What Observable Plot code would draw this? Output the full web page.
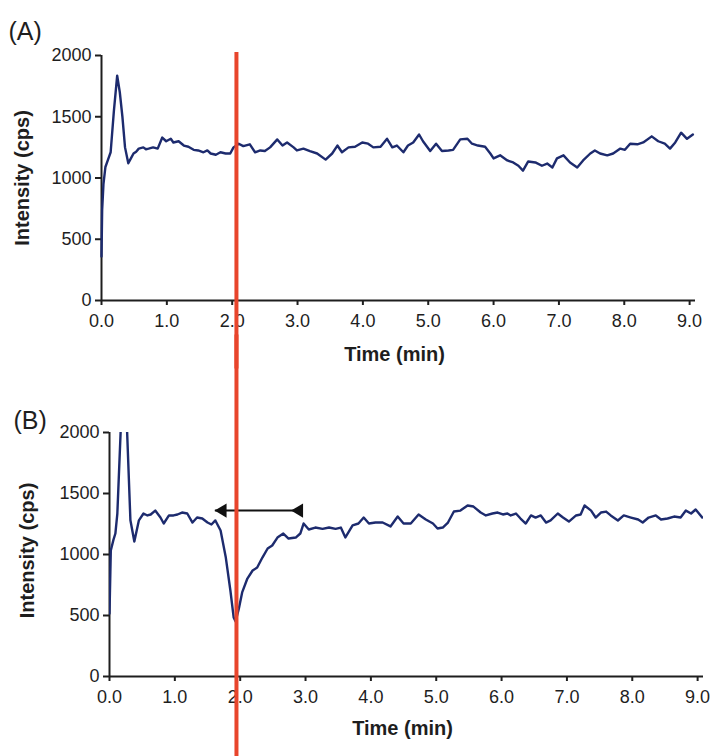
<!DOCTYPE html>
<html>
<head>
<meta charset="utf-8">
<script src="https://cdn.jsdelivr.net/npm/d3@7"></script>
<script src="https://cdn.jsdelivr.net/npm/@observablehq/plot@0.6"></script>
<style>
  html, body { margin: 0; padding: 0; background: #fff; }
  #wrap { position: relative; width: 715px; height: 756px; overflow: hidden; background: #fff; }
  #wrap svg { position: absolute; left: 0; }
</style>
</head>
<body>
<div id="wrap"></div>
<script>
// ---------- data ----------
const timeA = [0.00,0.01,0.03,0.06,0.10,0.14,0.19,0.24,0.28,0.32,0.36,0.41,0.45,0.49,0.53,0.57,0.64,0.68,0.72,0.79,0.86,0.93,0.99,1.06,1.10,1.18,1.26,1.33,1.41,1.48,1.56,1.62,1.67,1.75,1.82,1.90,1.97,2.02,2.10,2.17,2.27,2.35,2.43,2.50,2.58,2.69,2.77,2.84,2.94,2.99,3.09,3.19,3.30,3.43,3.53,3.61,3.68,3.78,3.88,3.99,4.08,4.16,4.27,4.37,4.45,4.52,4.62,4.69,4.77,4.86,4.92,5.03,5.12,5.21,5.31,5.38,5.49,5.60,5.67,5.76,5.87,5.95,6.00,6.10,6.21,6.30,6.38,6.45,6.53,6.64,6.74,6.82,6.90,6.97,7.07,7.17,7.28,7.37,7.48,7.55,7.63,7.74,7.83,7.94,8.01,8.09,8.20,8.29,8.42,8.52,8.62,8.70,8.78,8.87,8.96,9.05];
const intensityA = [360,740,950,1090,1150,1210,1550,1835,1700,1500,1250,1120,1160,1200,1215,1240,1250,1235,1240,1250,1240,1330,1300,1320,1290,1300,1265,1255,1230,1225,1210,1225,1200,1190,1210,1200,1200,1250,1280,1260,1275,1210,1225,1220,1250,1315,1265,1290,1250,1225,1240,1220,1200,1150,1200,1265,1210,1250,1255,1290,1280,1250,1255,1320,1250,1265,1210,1265,1290,1355,1300,1220,1280,1220,1225,1230,1315,1320,1280,1265,1255,1200,1160,1185,1143,1127,1100,1060,1135,1127,1100,1118,1086,1160,1185,1127,1086,1143,1200,1225,1200,1185,1200,1240,1230,1280,1275,1290,1340,1300,1280,1240,1290,1370,1320,1355];

const timeB = [0.00,0.02,0.06,0.09,0.12,0.17,0.22,0.27,0.32,0.38,0.45,0.52,0.58,0.63,0.70,0.78,0.83,0.91,0.98,1.04,1.11,1.19,1.27,1.34,1.42,1.50,1.56,1.62,1.70,1.78,1.85,1.90,1.93,1.98,2.03,2.11,2.19,2.26,2.34,2.42,2.49,2.57,2.66,2.74,2.85,2.92,2.97,3.05,3.15,3.26,3.36,3.46,3.54,3.61,3.72,3.81,3.89,3.97,4.07,4.18,4.30,4.41,4.50,4.61,4.73,4.84,4.95,5.02,5.10,5.18,5.27,5.37,5.48,5.57,5.68,5.76,5.86,5.94,6.02,6.09,6.14,6.22,6.29,6.37,6.45,6.52,6.60,6.68,6.75,6.86,6.94,7.03,7.14,7.21,7.27,7.37,7.44,7.52,7.60,7.67,7.78,7.87,7.98,8.09,8.16,8.25,8.36,8.44,8.54,8.64,8.74,8.82,8.90,8.97,9.07];
const intensityB = [516,1033,1120,1172,1336,2000,2700,2000,1280,1107,1280,1336,1320,1328,1360,1303,1254,1320,1320,1328,1344,1336,1262,1303,1295,1262,1246,1279,1197,975,705,484,451,557,689,803,869,893,975,1049,1074,1139,1172,1131,1139,1172,1254,1205,1221,1210,1221,1210,1221,1140,1238,1254,1303,1254,1262,1262,1230,1311,1254,1254,1328,1287,1254,1213,1221,1262,1352,1360,1402,1393,1344,1320,1336,1344,1328,1336,1320,1336,1295,1254,1320,1303,1320,1262,1279,1336,1303,1270,1320,1328,1402,1360,1303,1344,1352,1320,1279,1320,1303,1287,1262,1303,1320,1287,1295,1311,1303,1360,1336,1369,1303];

const xTicks = [0,1,2,3,4,5,6,7,8,9];
const yTicks = [0,500,1000,1500,2000];
const xLabel = "Time (min)";
const yLabel = "Intensity (cps)";
const panelLabels = ["(A)", "(B)"];
// red marker line position in each panel's time scale, and its extent in intensity units
const redLineA = 2.065, redTopA = 2024, redBottomA = -560;
const redLineB = 1.943, redTopB = 2800, redBottomB = -800;
// bracket (arrow) in panel B
const arrowStart = 1.62, arrowEnd = 2.95, arrowY = 1360;
const arrowHeads = [1.70, 2.87];

// ---------- styling ----------
const navy = "#1d2b6e";
const red = "#e8452c";
const ink = "#1e1e1e";
const font = "'Liberation Sans', Arial, Helvetica, sans-serif";

const leftTriangle = {
  draw(ctx, size) {
    const r = Math.sqrt(size / Math.PI);
    ctx.moveTo(-r, 0);
    ctx.lineTo(r, -1.2 * r);
    ctx.lineTo(r, 1.2 * r);
    ctx.closePath();
  }
};

function panel({times, values, label, redX, redTop, redBottom, top, height, mTop, mBottom, mLeft, mRight, yLabelDx, yLabelDy, xLabelDy, panelDx, panelDy, clip, extra}) {
  const data = times.map((t, i) => ({t, v: values[i]}));
  const svg = Plot.plot({
    width: 715,
    height,
    marginTop: mTop,
    marginBottom: mBottom,
    marginLeft: mLeft,
    marginRight: mRight,
    x: {domain: [0, 9.09]},
    y: {domain: [0, 2000]},
    style: {fontFamily: font, fontSize: "18px", color: ink, background: "transparent", overflow: "visible"},
    marks: [
      Plot.axisY({ticks: yTicks, tickSize: 6, tickPadding: 4, strokeWidth: 2, tickFormat: d => String(d), label: null, fill: ink, fontSize: 18}),
      Plot.axisX({ticks: xTicks, tickSize: 5, tickPadding: 9, strokeWidth: 2, tickFormat: d => d.toFixed(1), label: null, fill: ink, fontSize: 18}),
      Plot.ruleX([0], {stroke: ink, strokeWidth: 2}),
      Plot.ruleY([0], {stroke: ink, strokeWidth: 2}),
      Plot.line(data, {x: "t", y: "v", stroke: navy, strokeWidth: 2.4, curve: "linear", clip}),
      ...(extra || []),
      Plot.text([xLabel], {text: d => d, frameAnchor: "bottom", lineAnchor: "middle", textAnchor: "middle", dy: xLabelDy, dx: -4, fontWeight: "bold", fontSize: 20, fill: ink}),
      Plot.text([yLabel], {text: d => d, frameAnchor: "left", lineAnchor: "middle", textAnchor: "middle", dx: yLabelDx, dy: yLabelDy, rotate: -90, fontWeight: "bold", fontSize: 20, fill: ink}),
      Plot.text([label], {text: d => d, frameAnchor: "top-left", lineAnchor: "middle", textAnchor: "start", dx: panelDx, dy: panelDy, fontSize: 25, fill: ink}),
      Plot.ruleX([redX], {y1: redTop, y2: redBottom, stroke: red, strokeWidth: 4})
    ]
  });
  svg.style.top = top + "px";
  return svg;
}

const wrap = document.getElementById("wrap");

wrap.appendChild(panel({
  times: timeA, values: intensityA, label: panelLabels[0], redX: redLineA, redTop: redTopA, redBottom: redBottomA,
  top: 0, height: 370, mTop: 55, mBottom: 70, mLeft: 101, mRight: 20,
  yLabelDx: -79, yLabelDy: 0, xLabelDy: 54, panelDx: -93, panelDy: -24, clip: false
}));

wrap.appendChild(panel({
  times: timeB, values: intensityB, label: panelLabels[1], redX: redLineB, redTop: redTopB, redBottom: redBottomB,
  top: 370, height: 386, mTop: 62, mBottom: 80, mLeft: 109, mRight: 12,
  yLabelDx: -82, yLabelDy: -4, xLabelDy: 52, panelDx: -96, panelDy: -12, clip: true,
  extra: [
    Plot.ruleY([arrowY], {x1: arrowStart, x2: arrowEnd, stroke: "#111", strokeWidth: 2}),
    Plot.dot(arrowHeads, {x: d => d, y: arrowY, r: 6, symbol: leftTriangle, fill: "#111", stroke: "none"})
  ]
}));
</script>
</body>
</html>
